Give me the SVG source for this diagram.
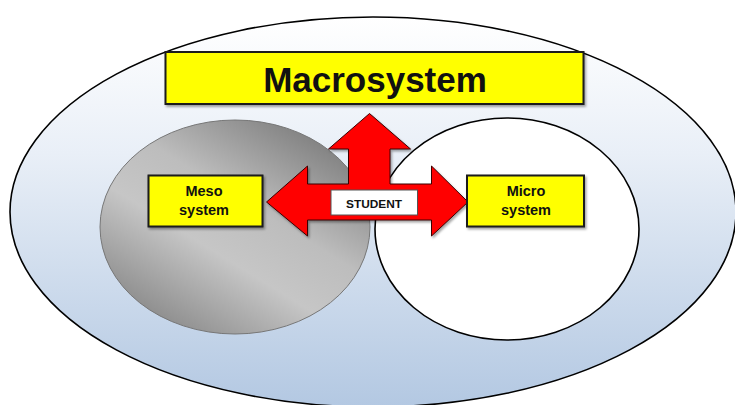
<svg xmlns="http://www.w3.org/2000/svg" width="735" height="405" viewBox="0 0 735 405">
<defs>
<linearGradient id="outerGrad" x1="0" y1="0" x2="0" y2="1">
<stop offset="0" stop-color="#ffffff"/>
<stop offset="0.35" stop-color="#e9eff7"/>
<stop offset="1" stop-color="#b3c8e2"/>
</linearGradient>
<linearGradient id="grayGrad" x1="0.85" y1="0.05" x2="0.15" y2="0.95">
<stop offset="0" stop-color="#7a7a7a"/>
<stop offset="0.4" stop-color="#bdbdbd"/>
<stop offset="0.62" stop-color="#c6c6c6"/>
<stop offset="1" stop-color="#868686"/>
</linearGradient>
<filter id="shadow" x="-10%" y="-10%" width="130%" height="140%">
<feDropShadow dx="1.5" dy="2" stdDeviation="1.2" flood-color="#000" flood-opacity="0.35"/>
</filter>
<style>
.box{fill:#ffff00;stroke:#1a1a1a;stroke-width:2;}
.lbl{font-family:"Liberation Sans",Arial,sans-serif;font-weight:bold;fill:#111;text-anchor:middle;}
</style>
</defs>
<rect width="735" height="405" fill="#ffffff"/>
<g id="outer">
<ellipse cx="373" cy="212" rx="363" ry="195" fill="url(#outerGrad)" stroke="#000" stroke-width="1.6"/>
</g>
<g id="meso-circle">
<ellipse cx="235" cy="227" rx="135" ry="107" fill="url(#grayGrad)" stroke="#777" stroke-width="1"/>
</g>
<g id="micro-circle">
<ellipse cx="507" cy="229" rx="132" ry="111" fill="#ffffff" stroke="#000" stroke-width="1.6"/>
</g>
<g id="macrosystem">
<rect class="box" x="165.5" y="52" width="418" height="52" filter="url(#shadow)"/>
<text class="lbl" x="375" y="92" font-size="35">Macrosystem</text>
</g>
<g id="connectors">
<path d="M369.5 113.5 L410.5 149 L390 149 L390 184 L431.5 184 L431.5 166 L468 202 L431.5 236 L431.5 220 L307.5 220 L307.5 236 L266.5 202 L307.5 166 L307.5 184 L348.5 184 L348.5 149 L328.5 149 Z" fill="#ff0000" stroke="#3a0000" stroke-width="1" stroke-linejoin="miter" filter="url(#shadow)"/>
</g>
<g id="student">
<rect x="331" y="190" width="86.5" height="25" fill="#ffffff" stroke="#555" stroke-width="1"/>
<text class="lbl" x="374" y="207.5" font-size="10" textLength="56" lengthAdjust="spacingAndGlyphs" fill="#222">STUDENT</text>
</g>
<g id="meso">
<rect class="box" x="148.5" y="175.5" width="114" height="51" filter="url(#shadow)"/>
<text class="lbl" x="204" y="196" font-size="14.5">Meso</text>
<text class="lbl" x="204" y="214.5" font-size="14.5">system</text>
</g>
<g id="micro">
<rect class="box" x="467" y="175.5" width="117" height="51" filter="url(#shadow)"/>
<text class="lbl" x="526" y="196" font-size="14.5">Micro</text>
<text class="lbl" x="526" y="214.5" font-size="14.5">system</text>
</g>
</svg>
